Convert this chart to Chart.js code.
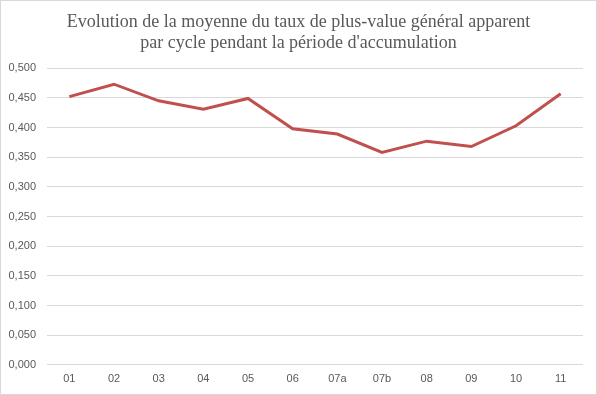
<!DOCTYPE html>
<html>
<head>
<meta charset="utf-8">
<script src="https://cdn.jsdelivr.net/npm/chart.js@4/dist/chart.umd.min.js"></script>
<style>
  body { margin: 0; background: #fff; }
  #wrap { width: 597px; height: 395px; }
</style>
</head>
<body>
<div id="wrap"><canvas id="chartTaux"></canvas></div>
<script>
/* data */
const cycles = ["01", "02", "03", "04", "05", "06", "07a", "07b", "08", "09", "10", "11"];
const tauxMoyen = [0.452, 0.473, 0.445, 0.431, 0.449, 0.398, 0.389, 0.358, 0.377, 0.368, 0.403, 0.457];
const titleLines = ["Evolution de la moyenne du taux de plus-value général apparent",
                    "par cycle pendant la période d'accumulation"];

const tickColor = "#595959";
const gridColor = "#d9d9d9";

// light frame round the whole chart, like the spreadsheet export
const chartBorder = {
  id: "chartBorder",
  beforeDraw(chart) {
    const ctx = chart.ctx;
    ctx.save();
    ctx.fillStyle = "#fff";
    ctx.fillRect(0, 0, chart.width, chart.height);
    ctx.strokeStyle = gridColor;
    ctx.lineWidth = 1;
    ctx.strokeRect(0.5, 0.5, chart.width - 1, chart.height - 1);
    ctx.restore();
  }
};

new Chart("chartTaux", {
  type: "line",
  data: {
    labels: cycles,
    datasets: [{
      data: tauxMoyen,
      borderColor: "#c0504d",
      borderWidth: 3,
      pointRadius: 0,
      tension: 0
    }]
  },
  options: {
    responsive: true,
    maintainAspectRatio: false,
    animation: false,
    layout: { padding: { left: 0, right: 0, bottom: 1 } },
    plugins: {
      legend: { display: false },
      tooltip: { enabled: false },
      title: {
        display: true,
        text: titleLines,
        color: tickColor,
        font: { family: "Liberation Serif", size: 18, weight: "normal", lineHeight: 1.2 },
        padding: { top: 11, bottom: 14 }
      }
    },
    scales: {
      x: {
        offset: true,
        grid: { display: false, drawTicks: false },
        border: { display: false },
        ticks: { color: tickColor, font: { family: "Liberation Sans", size: 11 }, padding: 8 }
      },
      y: {
        min: 0,
        max: 0.5,
        afterFit(scale) { scale.width = 47; },
        grid: { color: gridColor, drawTicks: false },
        border: { display: false },
        ticks: {
          stepSize: 0.05,
          padding: 11,
          color: tickColor,
          font: { family: "Liberation Sans", size: 11 },
          callback: (v) => v.toFixed(3).replace(".", ",")
        }
      },
      // empty strip on the right so the plot ends where the reference does
      yRight: {
        position: "right",
        afterFit(scale) { scale.width = 14; },
        grid: { display: false, drawTicks: false },
        border: { display: false },
        ticks: { display: false }
      }
    }
  },
  plugins: [chartBorder]
});
</script>
</body>
</html>
